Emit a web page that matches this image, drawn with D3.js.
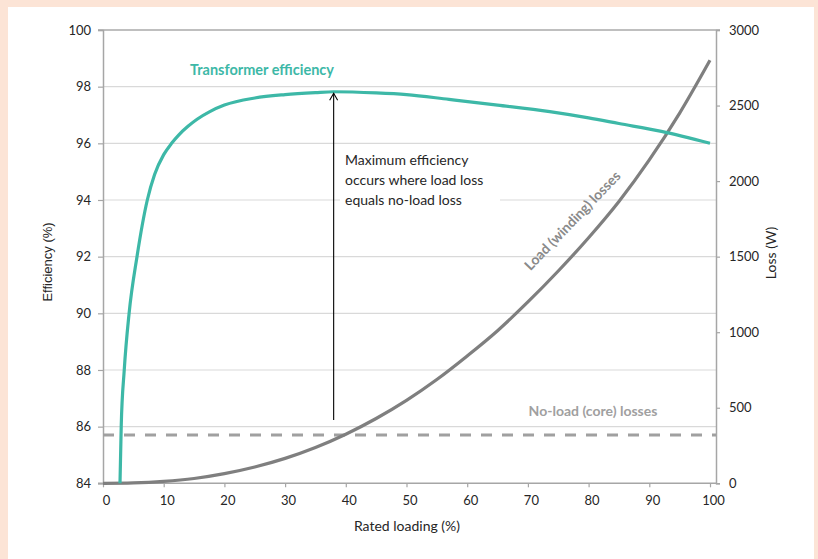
<!DOCTYPE html>
<html><head><meta charset="utf-8">
<script src="https://cdn.jsdelivr.net/npm/d3@7"></script>
<style>html,body{margin:0;padding:0;background:#fce4d6;}svg{display:block;}</style>
</head><body>
<svg id="c" width="818" height="559"></svg>
<script>
// ---- data ----
const xTicks = [0,10,20,30,40,50,60,70,80,90,100];
const effTicks = [84,86,88,90,92,94,96,98,100];
const lossTicks = [0,500,1000,1500,2000,2500,3000];

const effLoad = [2.8,3.0,3.5,4.3,5.6,7.3,8.5,10,11.3,12.5,14,15.5,17.6,20,25,30,35,38,45,50,57,65,73.6,80,85,92,100];
const effValues = [84.0,86.0,88.0,90.0,92.0,94.0,94.9,95.6,96.0,96.3,96.6,96.85,97.12,97.35,97.6,97.72,97.79,97.82,97.78,97.72,97.55,97.35,97.12,96.9,96.7,96.42,96.0];

const lossLoad = [0,5,10,15,20,25,30,35,40,45,50,55,60,65,70,75,80,85,90,95,100];
const loadLoss = [0,3,13,32,64,108,165,237,325,429,549,687,843,1010,1200,1405,1625,1865,2140,2450,2800];

const noLoadLoss = 320;
const arrowAt = 38;

// ---- layout ----
const svg = d3.select('#c');
const L = 103, R = 716, T = 30, B = 483.3;
svg.append('rect').attr('x',8).attr('y',7).attr('width',806).attr('height',552).attr('fill','#ffffff');

const x = d3.scaleLinear().domain([0,100]).range([L,710]);
const yE = d3.scaleLinear().domain([84,100]).range([B,T]);
const yL = d3.scaleLinear().domain([0,3000]).range([B,T]);

const font = 'Lato, "Open Sans", sans-serif';

// gridlines
svg.append('g').selectAll('line').data(effTicks.filter(d=>d!==84 && d!==100)).join('line')
  .attr('x1',L).attr('x2',R).attr('y1',d=>yE(d)).attr('y2',d=>yE(d))
  .attr('stroke','#d9d9d9').attr('stroke-width',1.2);
svg.append('line').attr('x1',98).attr('x2',720).attr('y1',yE(100)).attr('y2',yE(100))
  .attr('stroke','#bfbfbf').attr('stroke-width',2);

// axes
const axL = svg.append('g').attr('transform',`translate(${L},0)`)
  .call(d3.axisLeft(yE).tickValues(effTicks).tickSize(5).tickPadding(7).tickFormat(d3.format('d')));
const axR = svg.append('g').attr('transform',`translate(${R},0)`)
  .call(d3.axisRight(yL).tickValues(lossTicks).tickSize(4).tickPadding(9).tickFormat(d3.format('d')));
const axB = svg.append('g').attr('transform',`translate(0,${B})`)
  .call(d3.axisBottom(x).tickValues(xTicks).tickSize(4).tickPadding(8).tickFormat(d3.format('d')));
[axL,axR,axB].forEach(a=>{
  a.select('.domain').attr('stroke','#a6a6a6').attr('stroke-width',1.5);
  a.selectAll('.tick line').attr('stroke','#a6a6a6').attr('stroke-width',1.2);
  a.selectAll('text').attr('font-family',font).attr('font-size',13).attr('fill','#262626');
});
axB.selectAll('.tick text').attr('dx',3);
axB.select('.domain').attr('d',`M98,0H${R}`);

// white box behind annotation
svg.append('rect').attr('x',340).attr('y',146).attr('width',160).attr('height',66).attr('fill','#fff');

// no-load loss dashed
svg.append('line').attr('x1',L).attr('x2',R).attr('y1',yL(noLoadLoss)).attr('y2',yL(noLoadLoss))
  .attr('stroke','#a0a0a0').attr('stroke-width',3).attr('stroke-dasharray','11,10');

// load loss curve
svg.append('path').datum(lossLoad.map((d,i)=>[d,loadLoss[i]]))
  .attr('d',d3.line().x(d=>x(d[0])).y(d=>yL(d[1])).curve(d3.curveMonotoneX))
  .attr('fill','none').attr('stroke','#7f7f7f').attr('stroke-width',3.2);

// efficiency curve
svg.append('path').datum(effLoad.map((d,i)=>[d,effValues[i]]))
  .attr('d',d3.line().x(d=>x(d[0])).y(d=>yE(d[1])).curve(d3.curveMonotoneX))
  .attr('fill','none').attr('stroke','#3db8a7').attr('stroke-width',3.2);

// arrow
const ax = x(arrowAt);
const aTop = yE(97.82)+1.5, aBot = 420;
svg.append('line').attr('x1',ax).attr('x2',ax).attr('y1',aBot).attr('y2',aTop).attr('stroke','#000').attr('stroke-width',1.1);
svg.append('path').attr('d',`M${ax-4},${aTop+7}L${ax},${aTop}L${ax+4},${aTop+7}`).attr('fill','none').attr('stroke','#000').attr('stroke-width',1.1);

// labels
svg.append('text').attr('x',262).attr('y',75).attr('text-anchor','middle')
  .attr('font-family',font).attr('font-size',14.5).attr('font-weight',700).attr('fill','#3db8a7').text('Transformer efficiency');
const ann = ['Maximum efficiency','occurs where load loss','equals no-load loss'];
svg.append('g').selectAll('text').data(ann).join('text')
  .attr('x',345).attr('y',(d,i)=>165+i*20).attr('font-family',font).attr('font-size',14).attr('fill','#262626').text(d=>d);
svg.append('text').attr('transform','translate(576,224) rotate(-46)').attr('text-anchor','middle')
  .attr('font-family',font).attr('font-size',14).attr('font-weight',700).attr('fill','#8a8a8a').text('Load (winding) losses');
svg.append('text').attr('x',593).attr('y',416).attr('text-anchor','middle')
  .attr('font-family',font).attr('font-size',14).attr('font-weight',700).attr('fill','#a0a0a0').text('No-load (core) losses');

// axis titles
svg.append('text').attr('x',407).attr('y',531).attr('text-anchor','middle')
  .attr('font-family',font).attr('font-size',14).attr('fill','#262626').text('Rated loading (%)');
svg.append('text').attr('transform','translate(52,262) rotate(-90)').attr('text-anchor','middle')
  .attr('font-family','"Liberation Sans", Arial, sans-serif').attr('font-size',13).attr('fill','#262626').text('Efficiency (%)');
svg.append('text').attr('transform','translate(776,253) rotate(-90)').attr('text-anchor','middle')
  .attr('font-family',font).attr('font-size',14).attr('fill','#262626').text('Loss (W)');
</script>
</body></html>
